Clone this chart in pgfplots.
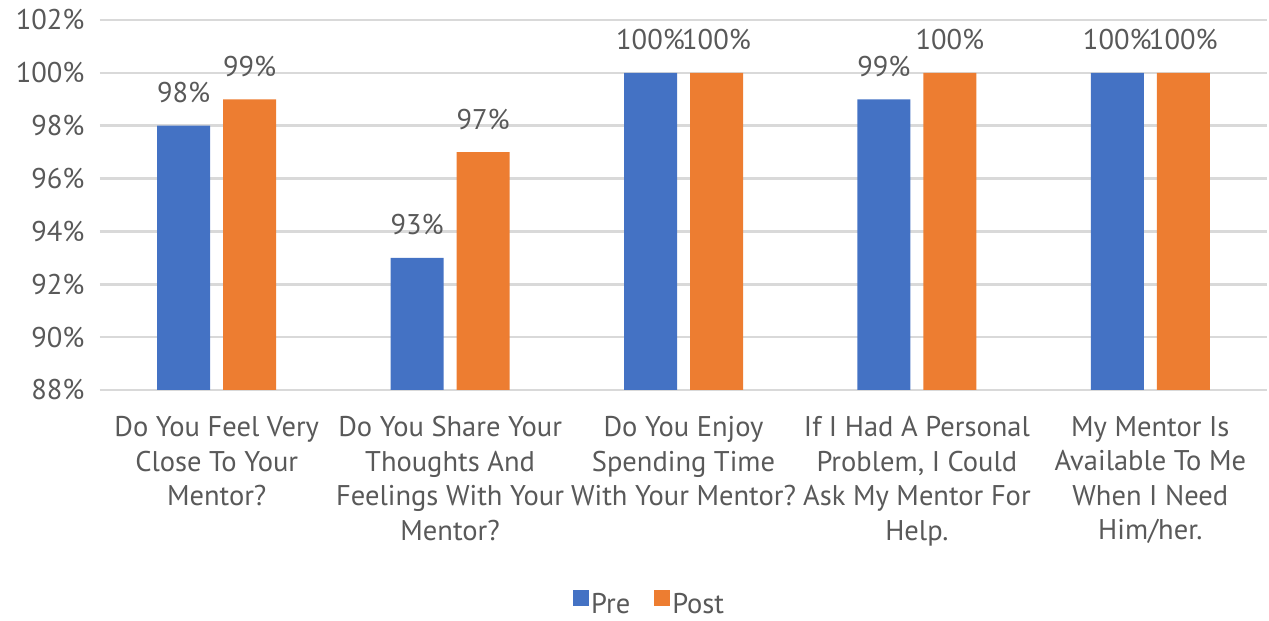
\documentclass[border=0pt]{standalone}
\usepackage{fontspec}
\setmainfont{PT Sans}
\usepackage{pgfplots}
\pgfplotsset{compat=1.18}
\definecolor{cblue}{HTML}{4472C4}
\definecolor{corange}{HTML}{ED7D31}
\definecolor{gridc}{HTML}{D9D9D9}
\definecolor{txt}{HTML}{595959}
\begin{document}
\begin{tikzpicture}[x=1pt,y=1pt]
\useasboundingbox (0,0) rectangle (1269,621);
\begin{axis}[
 at={(100pt,231pt)}, anchor=south west,
 scale only axis, width=1167pt, height=370pt,
 xmin=-0.5, xmax=4.5, ymin=88, ymax=102,
 ytick={88,90,...,102},
 yticklabel={\pgfmathprintnumber[assume math mode=true]{\tick}\%},
 xtick={0,...,4},
 xticklabels={{Do You Feel Very\\Close To Your\\Mentor?},{Do You Share Your\\Thoughts And\\Feelings With Your\\Mentor?},{Do You Enjoy\\Spending Time\\With Your Mentor?},{If I Had A Personal\\Problem, I Could\\Ask My Mentor For\\Help.},{My Mentor Is\\Available To Me\\When I Need\\Him/her.}},
 xticklabel style={align=center, anchor=north, yshift=-23pt},
 yticklabel style={anchor=east, xshift=-12pt},
 axis line style={draw=none},
 ymajorgrids, grid style={gridc, line width=2.5pt},
 major tick length=0,
 ybar, bar width=53pt,
 font=\fontsize{28.5}{34.5}\selectfont,
 every tick label/.append style={text=txt, font=\fontsize{28.5}{34.5}\selectfont},
 nodes near coords={\pgfmathprintnumber[assume math mode=true]{\pgfplotspointmeta}\%},
 every node near coord/.append style={text=txt, font=\fontsize{28.5}{34.5}\selectfont, anchor=south, yshift=19pt},
 legend style={draw=none, inner sep=0pt, at={(0.471,-0.578)}, anchor=center, legend columns=2, font=\fontsize{28.5}{34.5}\selectfont, text=txt,
   nodes={inner sep=2pt},
   /tikz/every even column/.append style={column sep=22pt}},
 legend image code/.code={\fill[#1] (0pt,-2pt) rectangle (16pt,14pt);},
]
\addplot[fill=cblue, draw=none, bar shift=-33pt] coordinates {(0,98) (1,93) (2,100) (3,99) (4,100)};
\addplot[fill=corange, draw=none, bar shift=33pt] coordinates {(0,99) (1,97) (2,100) (3,100) (4,100)};
\legend{Pre,Post}
\end{axis}
\end{tikzpicture}
\end{document}
